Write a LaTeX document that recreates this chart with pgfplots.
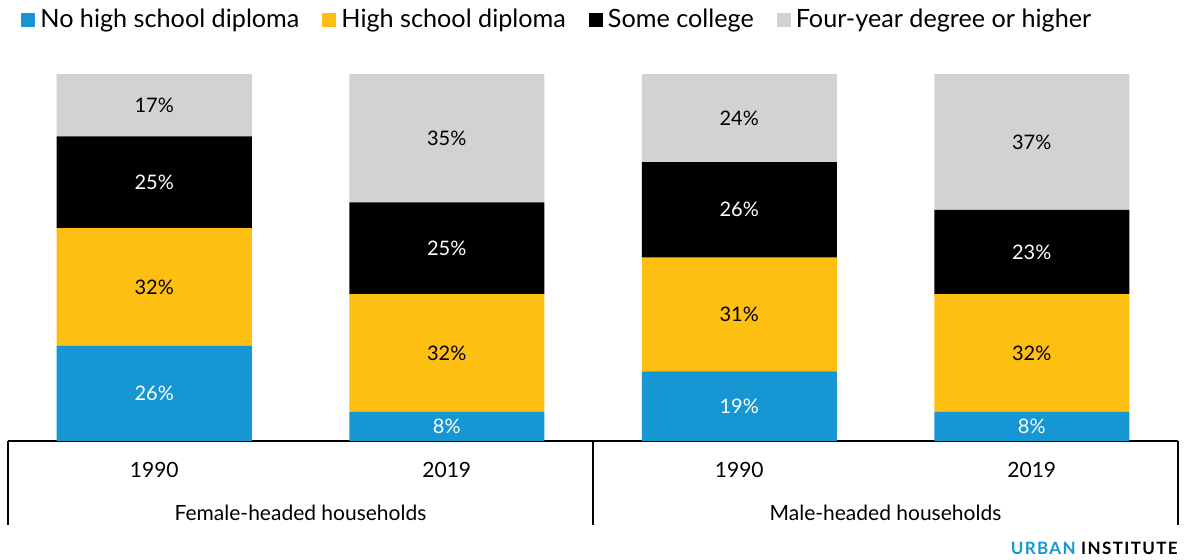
\documentclass[border=0pt]{standalone}
\usepackage{fontspec}
\setmainfont{Lato}
\usepackage{pgfplots}
\pgfplotsset{compat=1.18}
\definecolor{ublue}{HTML}{1696D2}
\definecolor{uyellow}{HTML}{FDBF11}
\definecolor{ugray}{HTML}{D2D2D2}
\pgfplotsset{
  vcenter labels/.style={
    nodes near coords={\pgfmathprintnumber[assume math mode=true]{\pgfplotspointmeta}\%},
    nodes near coords align=center,
    every node near coord/.append style={anchor=center, font=\fontsize{10}{12}\selectfont, text=#1},
  },
  sqlegend/.style={legend image code/.code={\fill[##1] (0pt,-3.5pt) rectangle (7pt,3.5pt);}},
}
\begin{document}
\begin{tikzpicture}
\useasboundingbox (0,0) rectangle (597pt,279.5pt);
\begin{axis}[
  at={(4pt,59pt)}, anchor=south west,
  scale only axis, width=585pt, height=183.5pt,
  xmin=-0.5, xmax=3.5, ymin=0, ymax=100,
  ybar stacked, bar width=97.5pt,
  axis x line*=bottom, axis y line=none,
  axis line style={line width=1pt, black},
  xtick={0,1,2,3}, xticklabels={1990,2019,1990,2019},
  major tick length=0pt,
  xticklabel style={anchor=center, yshift=-14.5pt, font=\fontsize{10.5}{12}\selectfont},
  clip=false,
  legend columns=-1,
  legend style={at={(0,1)}, anchor=west, xshift=6.5pt, yshift=27pt, draw=none, fill=none, inner sep=0pt,
    font=\fontsize{12.6}{14}\selectfont,
    /tikz/every odd column/.append style={column sep=0.5pt},
    /tikz/every even column/.append style={column sep=9.5pt}},
]
\addplot[fill=ublue, draw=none, sqlegend, vcenter labels=white] coordinates {(0,26) (1,8) (2,19) (3,8)};
\addplot[fill=uyellow, draw=none, sqlegend, vcenter labels=black] coordinates {(0,32) (1,32) (2,31) (3,32)};
\addplot[fill=black, draw=none, sqlegend, vcenter labels=white] coordinates {(0,25) (1,25) (2,26) (3,23)};
\addplot[fill=ugray, draw=none, sqlegend, vcenter labels=black] coordinates {(0,17) (1,35) (2,24) (3,37)};
\legend{No high school diploma, High school diploma, Some college, Four-year degree or higher}
\draw[line width=1pt] (axis cs:-0.5,0) -- ++(0pt,-42pt);
\draw[line width=1pt] (axis cs:1.5,0) -- ++(0pt,-42pt);
\draw[line width=1pt] (axis cs:3.5,0) -- ++(0pt,-42pt);
\node[font=\fontsize{10.5}{12}\selectfont] at ([yshift=-36pt]axis cs:0.5,0) {Female-headed households};
\node[font=\fontsize{10.5}{12}\selectfont] at ([yshift=-36pt]axis cs:2.5,0) {Male-headed households};
\end{axis}
\node[anchor=east, inner sep=0pt, font=\fontsize{8.5}{10}\selectfont\bfseries\addfontfeatures{LetterSpace=8}] at (589pt,5.5pt) {\textcolor{ublue}{URBAN} INSTITUTE};
\end{tikzpicture}
\end{document}
